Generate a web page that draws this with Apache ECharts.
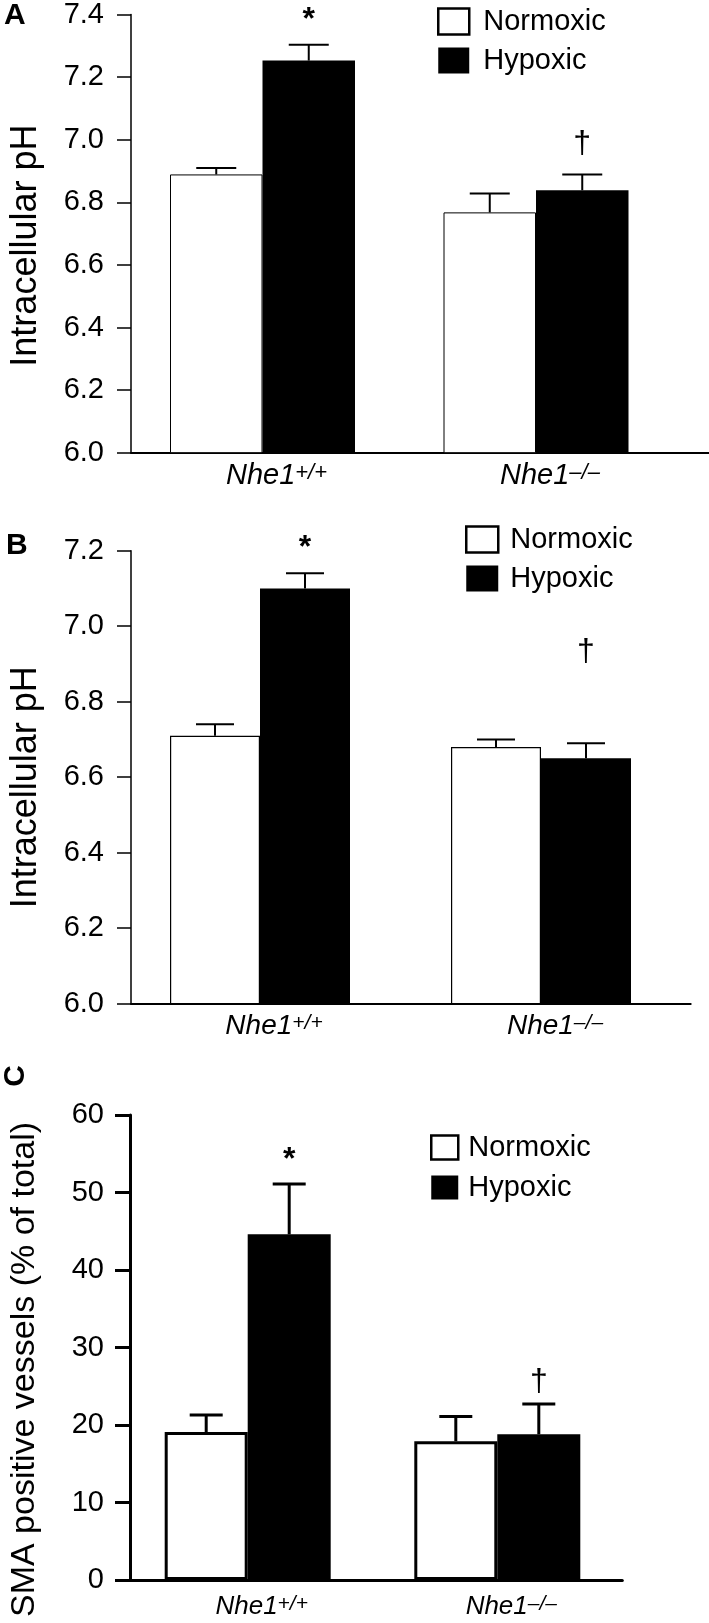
<!DOCTYPE html>
<html>
<head>
<meta charset="utf-8">
<script src="https://cdn.jsdelivr.net/npm/echarts@6/dist/echarts.min.js"></script>
<style>
html,body{margin:0;padding:0;background:#fff;}
#chart{width:709px;height:1623px;}
</style>
</head>
<body>
<div id="chart"></div>
<script>
// ---------- DATA ----------
const categories = ['Nhe1+/+', 'Nhe1−/−'];
const labelBase = ['Nhe1', 'Nhe1'];
const labelSup = ['+/+', '–/–'];
const seriesNames = ['Normoxic', 'Hypoxic'];

// Panel A: intracellular pH
const phA_normoxic = [6.88, 6.76];
const phA_normoxicErr = [0.02, 0.06];
const phA_hypoxic = [7.24, 6.83];
const phA_hypoxicErr = [0.05, 0.05];
const phA_marks = ['*', '†'];
const phA_markAt = [7.39, 6.975];
const ticksA = ['6.0', '6.2', '6.4', '6.6', '6.8', '7.0', '7.2', '7.4'];

// Panel B: intracellular pH
const phB_normoxic = [6.71, 6.68];
const phB_normoxicErr = [0.03, 0.02];
const phB_hypoxic = [7.10, 6.65];
const phB_hypoxicErr = [0.04, 0.04];
const phB_marks = ['*', '†'];
const phB_markAt = [7.224, 6.932];
const ticksB = ['6.0', '6.2', '6.4', '6.6', '6.8', '7.0', '7.2'];

// Panel C: SMA positive vessels (% of total)
const sma_normoxic = [19.1, 17.9];
const sma_normoxicErr = [2.2, 3.2];
const sma_hypoxic = [44.6, 18.8];
const sma_hypoxicErr = [6.5, 3.9];
const sma_marks = ['*', '†'];
const sma_markAt = [55.1, 25.5];
const ticksC = ['0', '10', '20', '30', '40', '50', '60'];

// ---------- LAYOUT / STYLE ----------
const FONT = '"Liberation Sans", Arial, Helvetica, sans-serif';
const panels = [
  {
    label: 'A', title: 'Intracellular pH', min: 6.0, max: 7.4, interval: 0.2, ticks: ticksA,
    norm: phA_normoxic, normErr: phA_normoxicErr, hyp: phA_hypoxic, hypErr: phA_hypoxicErr,
    marks: phA_marks, markAt: phA_markAt,
    L: { top: 10, height: 442.7, axisLeft: 125, axisWidth: 584, barLeft: 125.75, barGridW: 547,
         barW: 92.5, capW: 40, errW: 2, barBorder: 1, yLineW: 1.5, xLineW: 2, tickLen: 14, tickW: 1.5,
         labelMargin: 27, tickFont: 29, catFont: 29, supFont: 22, catMargin: 9,
         titleGap: 87, titleFont: 36, titleShift: 24,
         legend: { left: 437, top: 7, iw: 31, ih: 26, gap: 10, tp: 9 },
         plabel: { x: 4, y: 1, rot: 0 } }
  },
  {
    label: 'B', title: 'Intracellular pH', min: 6.0, max: 7.2, interval: 0.2, ticks: ticksB,
    norm: phB_normoxic, normErr: phB_normoxicErr, hyp: phB_hypoxic, hypErr: phB_hypoxicErr,
    marks: phB_marks, markAt: phB_markAt,
    L: { top: 550.7, height: 453, axisLeft: 125, axisWidth: 565.7, barLeft: 119.5, barGridW: 562,
         barW: 90, capW: 38, errW: 2, barBorder: 1.2, yLineW: 1.5, xLineW: 2, tickLen: 14, tickW: 1.5,
         labelMargin: 27, tickFont: 29, catFont: 28, supFont: 21, catMargin: 9,
         titleGap: 87, titleFont: 36, titleShift: 20,
         legend: { left: 465, top: 525, iw: 32, ih: 26, gap: 10, tp: 7 },
         plabel: { x: 6, y: 531, rot: 0 } }
  },
  {
    label: 'C', title: 'SMA positive vessels (% of total)', min: 0, max: 60, interval: 10, ticks: ticksC,
    norm: sma_normoxic, normErr: sma_normoxicErr, hyp: sma_hypoxic, hypErr: sma_hypoxicErr,
    marks: sma_marks, markAt: sma_markAt,
    L: { top: 1115, height: 465, axisLeft: 126.5, axisWidth: 495.8, barLeft: 122.9, barGridW: 499.2,
         barW: 83, capW: 33, errW: 3, barBorder: 3, yLineW: 3, xLineW: 3, tickLen: 15, tickW: 3,
         labelMargin: 26, tickFont: 29, catFont: 26, supFont: 21, catMargin: 14,
         titleGap: 88, titleFont: 34, titleShift: 44,
         legend: { left: 430, top: 1133, iw: 27, ih: 24, gap: 11, tp: 5 },
         plabel: { x: 16, y: 1076, rot: 90 } }
  }
];

// ---------- BUILD OPTION ----------
const grid = [], xAxis = [], yAxis = [], series = [], legend = [], graphic = [];

panels.forEach((P, k) => {
  const L = P.L;
  const gDeco = grid.length;
  grid.push({ left: L.axisLeft, top: L.top, width: L.axisWidth, height: L.height, containLabel: false });
  const gBar = grid.length;
  grid.push({ left: L.barLeft, top: L.top, width: L.barGridW, height: L.height, containLabel: false });

  xAxis.push({
    gridIndex: gDeco, type: 'value', min: 0, max: 1,
    axisLine: { show: true, onZero: false, lineStyle: { color: '#000', width: L.xLineW } },
    axisTick: { show: false }, axisLabel: { show: false }, splitLine: { show: false }
  });
  yAxis.push({
    gridIndex: gDeco, type: 'value', min: P.min, max: P.max, interval: P.interval,
    axisLine: { show: true, onZero: false, lineStyle: { color: '#000', width: L.yLineW } },
    axisTick: { show: true, inside: false, length: L.tickLen, lineStyle: { color: '#000', width: L.tickW } },
    axisLabel: {
      margin: L.labelMargin, color: '#000', fontFamily: FONT, fontSize: L.tickFont,
      formatter: (v, i) => P.ticks[i]
    },
    splitLine: { show: false },
    name: P.title, nameLocation: 'middle', nameGap: L.titleGap, nameRotate: 90,
    nameMoveOverlap: false,
    nameTextStyle: { fontFamily: FONT, fontSize: L.titleFont, color: '#000', padding: [0, L.titleShift, 0, 0] }
  });

  xAxis.push({
    gridIndex: gBar, type: 'category', data: categories, boundaryGap: true,
    axisLine: { show: false }, axisTick: { show: false }, splitLine: { show: false },
    axisLabel: {
      margin: L.catMargin, interval: 0,
      padding: [0, 0, 0, 28],
      formatter: (v, i) => '{n|' + labelBase[i] + '}{s|' + labelSup[i] + '}',
      rich: {
        n: { fontFamily: FONT, fontStyle: 'italic', fontSize: L.catFont, color: '#000' },
        s: { fontFamily: FONT, fontStyle: 'italic', fontSize: L.supFont, color: '#000', verticalAlign: 'top' }
      }
    }
  });
  yAxis.push({ gridIndex: gBar, type: 'value', min: P.min, max: P.max, interval: P.interval, show: false });

  series.push({
    name: seriesNames[0], type: 'bar', xAxisIndex: gBar, yAxisIndex: gBar,
    data: P.norm, barWidth: L.barW, barGap: '0%',
    itemStyle: { color: '#fff', borderColor: '#000', borderWidth: L.barBorder },
    z: 2
  });
  series.push({
    name: seriesNames[1], type: 'bar', xAxisIndex: gBar, yAxisIndex: gBar,
    data: P.hyp, barWidth: L.barW, barGap: '0%',
    itemStyle: { color: '#000', borderColor: '#000', borderWidth: 0 },
    z: 2
  });

  const errSeries = (vals, errs, sign) => ({
    type: 'custom', xAxisIndex: gBar, yAxisIndex: gBar, clip: false, z: 3, silent: true,
    data: vals.map((v, i) => [i, v, errs[i]]),
    renderItem: (params, api) => {
      const base = api.coord([api.value(0), api.value(1)]);
      const top = api.coord([api.value(0), api.value(1) + api.value(2)]);
      const x = base[0] + sign * L.barW / 2;
      return {
        type: 'group', children: [
          { type: 'line', shape: { x1: x, y1: base[1], x2: x, y2: top[1] }, style: { stroke: '#000', lineWidth: L.errW } },
          { type: 'line', shape: { x1: x - L.capW / 2, y1: top[1], x2: x + L.capW / 2, y2: top[1] }, style: { stroke: '#000', lineWidth: L.errW } }
        ]
      };
    }
  });
  series.push(errSeries(P.norm, P.normErr, -1));
  series.push(errSeries(P.hyp, P.hypErr, 1));

  series.push({
    type: 'custom', xAxisIndex: gBar, yAxisIndex: gBar, clip: false, z: 4, silent: true,
    data: P.markAt.map((v, i) => [i, v]),
    renderItem: (params, api) => {
      const p = api.coord([api.value(0), api.value(1)]);
      const m = P.marks[params.dataIndex];
      const star = m === '*';
      return {
        type: 'text', x: p[0] + L.barW / 2, y: p[1] + (star ? 7 : 0),
        style: {
          text: m, fill: '#000', align: 'center', verticalAlign: 'middle',
          font: (star ? 'bold 32px ' : '32px ') + FONT
        }
      };
    }
  });

  legend.push({
    orient: 'vertical', left: L.legend.left, top: L.legend.top, padding: 0,
    itemWidth: L.legend.iw, itemHeight: L.legend.ih, itemGap: L.legend.gap,
    selectedMode: false, icon: 'rect',
    textStyle: { fontFamily: FONT, fontSize: 29, color: '#000', padding: [0, 0, 0, L.legend.tp] },
    data: [
      { name: seriesNames[0], itemStyle: { color: '#fff', borderColor: '#000', borderWidth: 2.5 } },
      { name: seriesNames[1], itemStyle: { color: '#000', borderWidth: 0 } }
    ]
  });

  graphic.push({
    type: 'text', left: L.plabel.rot ? undefined : L.plabel.x, top: L.plabel.rot ? undefined : L.plabel.y,
    x: L.plabel.rot ? L.plabel.x : undefined, y: L.plabel.rot ? L.plabel.y : undefined,
    rotation: L.plabel.rot ? Math.PI / 2 : 0,
    style: { text: P.label, font: 'bold 30px ' + FONT, fill: '#000',
             align: L.plabel.rot ? 'center' : 'left', verticalAlign: L.plabel.rot ? 'middle' : 'top' }
  });
});

const chart = echarts.init(document.getElementById('chart'), null, { renderer: 'canvas' });
chart.setOption({
  animation: false,
  backgroundColor: '#fff',
  grid, xAxis, yAxis, series, legend, graphic
});
</script>
</body>
</html>
